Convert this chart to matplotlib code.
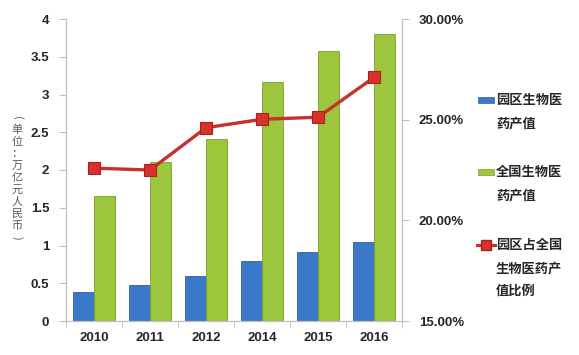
import matplotlib
matplotlib.use("Agg")
import matplotlib.pyplot as plt
import numpy as np
from matplotlib.patches import Rectangle
from matplotlib.lines import Line2D

plt.rcParams['font.family'] = ['Noto Sans CJK SC', 'DejaVu Sans']

years = ['2010', '2011', '2012', '2014', '2015', '2016']
park_value = [0.38, 0.48, 0.60, 0.80, 0.91, 1.04]
national_value = [1.65, 2.10, 2.41, 3.17, 3.58, 3.80]
share_pct = [22.59, 22.50, 24.60, 25.02, 25.12, 27.10]

left_ticks = [0, 0.5, 1, 1.5, 2, 2.5, 3, 3.5, 4]
left_labels = ['0', '0.5', '1', '1.5', '2', '2.5', '3', '3.5', '4']
right_ticks = [15, 20, 25, 30]
right_labels = ['15.00%', '20.00%', '25.00%', '30.00%']

legend_labels = [['园区生物医', '药产值'], ['全国生物医', '药产值'], ['园区占全国', '生物医药产', '值比例']]
ylabel_chars = ['(', '单', '位', '：', '万', '亿', '元', '人', '民', '币', ')']

blue = '#3a78c9'
green = '#9cc63c'
red = '#c8302e'
spine_c = '#c0c0c0'
txt_c = '#262626'
tick_font = dict(fontfamily='Liberation Sans', fontweight='bold', fontsize=9.5, color=txt_c)

W, H = 579, 355
fig = plt.figure(figsize=(W/100, H/100), dpi=100)
ax = fig.add_axes([66/W, 1-321/H, (402-66)/W, (321-19)/H])
ax2 = ax.twinx()
ax.set_zorder(1)
ax2.set_zorder(2)
ax2.patch.set_visible(False)

x = np.arange(len(years))
w = 0.375
ax.bar(x - w/2, park_value, w, color=blue, edgecolor='#2d5f9f', linewidth=0.6)
ax.bar(x + w/2, national_value, w, color=green, edgecolor='#7a9e2c', linewidth=0.6)

ax2.plot(x, share_pct, color=red, linewidth=2.4, marker='s', markersize=8,
         markerfacecolor='#d8302c', markeredgecolor='#a52220', markeredgewidth=0.8)

ax.set_xlim(-0.5, len(years) - 0.5)
ax.set_ylim(0, 4)
ax2.set_ylim(15, 30)

ax.set_yticks(left_ticks)
ax.set_yticklabels(left_labels, **tick_font)
ax2.set_yticks(right_ticks)
ax2.set_yticklabels(right_labels, **tick_font)
ax.set_xticks(x)
ax.set_xticklabels(years, **tick_font)
ax.set_xticks(np.arange(len(years) + 1) - 0.5, minor=True)
ax.tick_params(axis='x', which='major', length=0, pad=8)
ax.tick_params(axis='x', which='minor', length=5, color=spine_c)
ax.tick_params(axis='y', length=5, color=spine_c, pad=7)
ax2.tick_params(axis='y', length=5, color=spine_c, pad=7)

for a in (ax, ax2):
    a.spines['top'].set_visible(False)
    for s in ('left', 'right', 'bottom'):
        a.spines[s].set_color(spine_c)
        a.spines[s].set_linewidth(0.8)

# overlay in pixel coordinates for y label and legend
ov = fig.add_axes([0, 0, 1, 1], zorder=5)
ov.set_xlim(0, W)
ov.set_ylim(H, 0)
ov.axis('off')

y0 = 118
n = len(ylabel_chars)
for i, ch in enumerate(ylabel_chars):
    rot = -90 if i in (0, n - 1) else 0
    ov.text(17, y0 + i*12, ch, ha='center', va='center', fontsize=8,
            color='#595959', rotation=rot, rotation_mode='default')

entry_y = [100, 172, 245]
line_gap = 23
for k, (lbl, ey) in enumerate(zip(legend_labels, entry_y)):
    if k == 0:
        ov.add_patch(Rectangle((478, ey - 3), 16, 6, facecolor=blue, edgecolor='#2d5f9f', linewidth=0.5))
    elif k == 1:
        ov.add_patch(Rectangle((478, ey - 3), 16, 6, facecolor=green, edgecolor='#7a9e2c', linewidth=0.5))
    else:
        ov.add_line(Line2D([477, 495], [ey, ey], color=red, linewidth=2.2))
        ov.add_line(Line2D([486], [ey], marker='s', markersize=7, color=red,
                           markerfacecolor='#d8302c', markeredgecolor='#a52220'))
    for j, line in enumerate(lbl):
        ov.text(496, ey + j*line_gap, line, ha='left', va='center', fontsize=9.5,
                fontweight='bold', color=txt_c)

fig.savefig('out.png', dpi=100)
